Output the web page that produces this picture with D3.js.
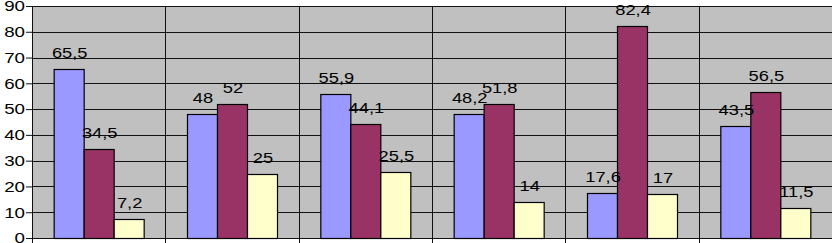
<!DOCTYPE html>
<html>
<head>
<meta charset="utf-8">
<script src="https://cdn.jsdelivr.net/npm/d3@7"></script>
<style>
  html, body { margin: 0; padding: 0; background: #fff; }
  svg { display: block; }
  text { font-family: "Liberation Sans", Arial, sans-serif; }
</style>
</head>
<body>
<div id="chart"></div>
<script>
// categories have no visible labels in the picture
const categories = ["1", "2", "3", "4", "5", "6"];
const seriesNames = ["s1", "s2", "s3"];
const series1 = [65.5, 48, 55.9, 48.2, 17.6, 43.5];
const series2 = [34.5, 52, 44.1, 51.8, 82.4, 56.5];
const series3 = [7.2, 25, 25.5, 14, 17, 11.5];
const yTicks = [0, 10, 20, 30, 40, 50, 60, 70, 80, 90];

const colors = ["#9999ff", "#993366", "#ffffcc"];

const width = 832, height = 243;
const plot = { left: 32, right: 832, top: 6, bottom: 238 };

const svg = d3.select("#chart").append("svg")
  .attr("width", width)
  .attr("height", height);

const x0 = d3.scaleBand()
  .domain(categories)
  .range([plot.left, plot.right])
  .paddingInner(0.325)
  .paddingOuter(0.1625);

const x1 = d3.scaleBand()
  .domain(seriesNames)
  .range([0, x0.bandwidth()]);

const y = d3.scaleLinear()
  .domain([0, 90])
  .range([plot.bottom, plot.top]);

// plot background
svg.append("rect")
  .attr("x", plot.left)
  .attr("y", plot.top)
  .attr("width", plot.right - plot.left)
  .attr("height", plot.bottom - plot.top)
  .attr("fill", "#c0c0c0");

// horizontal gridlines + y ticks
const yAxis = svg.append("g")
  .attr("transform", "translate(" + plot.left + ",0)")
  .call(d3.axisLeft(y)
    .tickValues(yTicks)
    .tickSize(6)
    .tickPadding(2)
    .tickFormat(d => d));
yAxis.select(".domain").remove();
yAxis.selectAll(".tick line").attr("stroke", "#111");
yAxis.selectAll(".tick text")
  .attr("fill", "#000")
  .style("font-size", "15px")
  .attr("x", 0)
  .attr("text-anchor", "end")
  .attr("transform", "translate(-7,0) scale(1.25,1)");

svg.append("g")
  .attr("class", "grid")
  .selectAll("line")
  .data(yTicks)
  .enter()
  .append("line")
    .attr("x1", plot.left)
    .attr("x2", plot.right)
    .attr("y1", d => Math.round(y(d)) + 0.5)
    .attr("y2", d => Math.round(y(d)) + 0.5)
    .attr("stroke", "#111")
    .attr("stroke-width", 1);

// vertical gridlines at category borders, ticking below the axis
const borders = categories.map(c => x0(c) - x0.step() * x0.paddingOuter()).slice(1);
svg.append("g")
  .selectAll("line")
  .data(borders)
  .enter()
  .append("line")
    .attr("x1", d => Math.round(d) + 0.5)
    .attr("x2", d => Math.round(d) + 0.5)
    .attr("y1", plot.top)
    .attr("y2", height)
    .attr("stroke", "#111");

// y axis line
svg.append("line")
  .attr("x1", plot.left + 0.5).attr("x2", plot.left + 0.5)
  .attr("y1", plot.top).attr("y2", height)
  .attr("stroke", "#111");

// bars
const rows = categories.map((c, i) => ({
  cat: c,
  values: [series1[i], series2[i], series3[i]]
}));

const groups = svg.append("g")
  .selectAll("g")
  .data(rows)
  .enter()
  .append("g")
    .attr("transform", d => "translate(" + x0(d.cat) + ",0)");

groups.selectAll("rect")
  .data(d => d.values.map((v, j) => ({ key: seriesNames[j], v: v, j: j })))
  .enter()
  .append("rect")
    .attr("x", d => Math.round(x1(d.key)) + 0.5)
    .attr("y", d => Math.round(y(d.v)) + 0.5)
    .attr("width", x1.bandwidth())
    .attr("height", d => Math.round(plot.bottom) - Math.round(y(d.v)))
    .attr("fill", d => colors[d.j])
    .attr("stroke", "#000")
    .attr("stroke-width", 1.2);

// value labels
groups.selectAll("text")
  .data(d => d.values.map((v, j) => ({ key: seriesNames[j], v: v })))
  .enter()
  .append("text")
    .attr("text-anchor", "middle")
    .style("font-size", "15px")
    .attr("fill", "#000")
    .attr("transform", d => "translate(" + (x1(d.key) + x1.bandwidth() / 2 + 1) + "," + (y(d.v) - 11) + ") scale(1.22,1)")
    .text(d => String(d.v).replace(".", ","));
</script>
</body>
</html>
